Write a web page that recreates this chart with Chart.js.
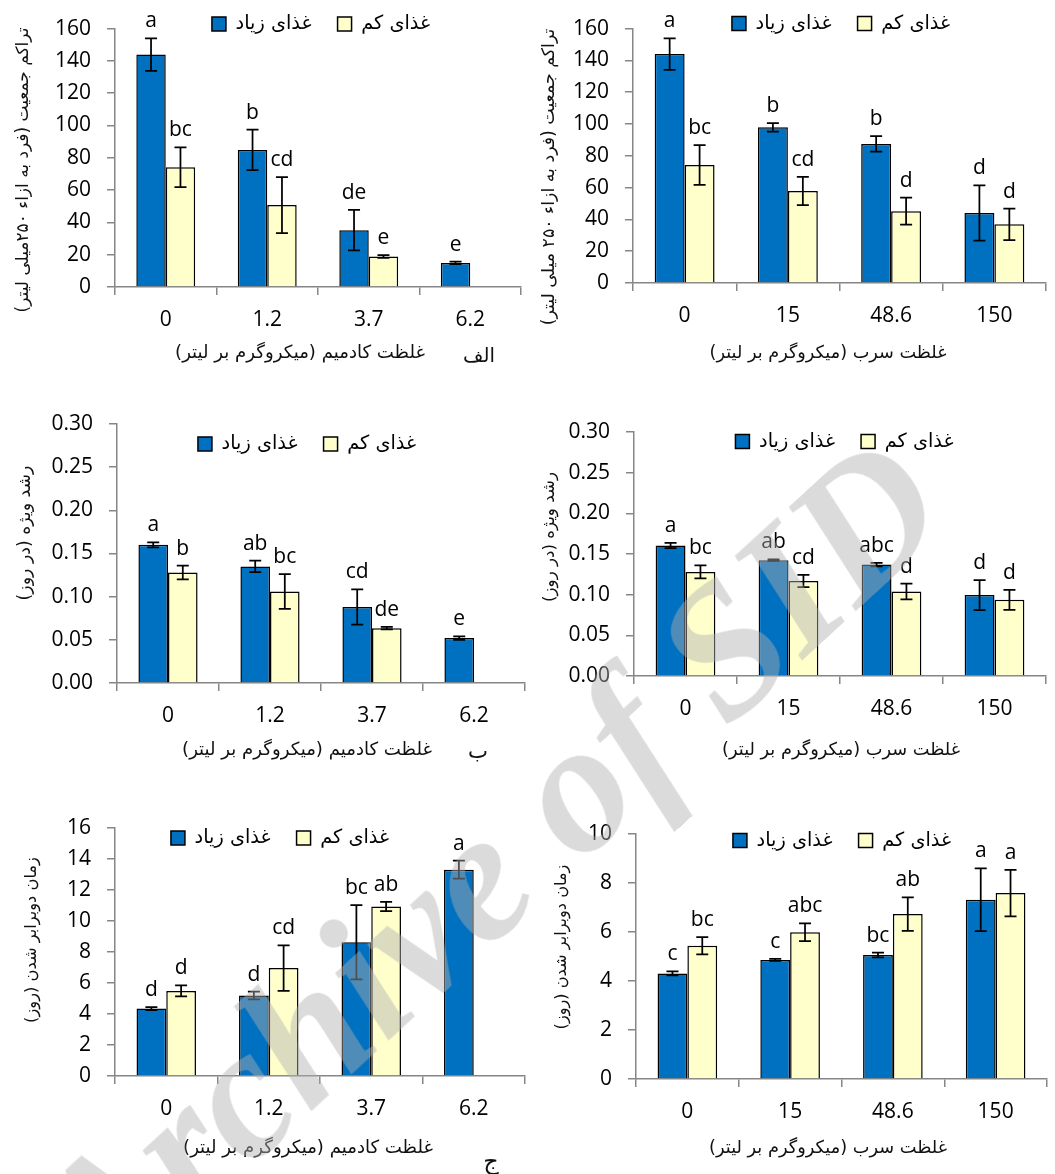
<!DOCTYPE html>
<html>
<head>
<meta charset="utf-8">
<script src="https://cdn.jsdelivr.net/npm/chart.js@4.4.1/dist/chart.umd.min.js"></script>
<style>
html,body{margin:0;padding:0;background:#fff;}
#wrap{position:relative;width:1055px;height:1174px;overflow:hidden;background:#fff;}
.panel{position:absolute;}
.panel canvas{display:block;}
#wm{position:absolute;left:-2px;top:1188px;transform-origin:0 0;transform:rotate(-42.6deg);
  font:italic bold 186px 'Liberation Serif';line-height:1;white-space:nowrap;
  color:rgba(175,175,175,0.45);pointer-events:none;z-index:5;}
</style>
</head>
<body>
<div id="wrap">
  <div class="panel" style="left:0;top:0"><canvas id="c1" width="527" height="395"></canvas></div>
  <div class="panel" style="left:527px;top:0"><canvas id="c2" width="528" height="395"></canvas></div>
  <div class="panel" style="left:0;top:395px"><canvas id="c3" width="527" height="400"></canvas></div>
  <div class="panel" style="left:527px;top:395px"><canvas id="c4" width="528" height="400"></canvas></div>
  <div class="panel" style="left:0;top:795px"><canvas id="c5" width="527" height="379"></canvas></div>
  <div class="panel" style="left:527px;top:795px"><canvas id="c6" width="528" height="379"></canvas></div>
  <div id="wm">Archive of SID</div>
</div>
<script>
// ---------- categories / labels ----------
const cdDoses = ['0', '1.2', '3.7', '6.2'];
const pbDoses = ['0', '15', '48.6', '150'];
const seriesHigh = 'غذای زیاد';
const seriesLow = 'غذای کم';
const xTitleCd = 'غلظت کادمیم (میکروگرم بر لیتر)';
const xTitlePb = 'غلظت سرب (میکروگرم بر لیتر)';
const yTitlePop1 = 'تراکم جمعیت (فرد به ازاء ۲۵۰میلی لیتر)';
const yTitlePop2 = 'تراکم جمعیت (فرد به ازاء ۲۵۰ میلی لیتر)';
const yTitleGrowth = 'رشد ویژه (در روز)';
const yTitleDoubling = 'زمان دوبرابر شدن (روز)';
const panelTags = ['الف', 'ب', 'ج'];

// ---------- population (Cd) ----------
const popCdHigh = [143.9, 84.9, 35.2, 14.9];
const popCdHighSE = [10.0, 12.6, 12.5, 0.8];
const popCdHighLetters = ['a', 'b', 'de', 'e'];
const popCdLow = [74.1, 50.7, 18.9, null];
const popCdLowSE = [12.3, 17.4, 0.8, null];
const popCdLowLetters = ['bc', 'cd', 'e', ''];

// ---------- population (Pb) ----------
const popPbHigh = [144.0, 97.9, 87.5, 44.0];
const popPbHighSE = [9.9, 2.7, 4.8, 17.4];
const popPbHighLetters = ['a', 'b', 'b', 'd'];
const popPbLow = [74.2, 57.9, 45.2, 36.9];
const popPbLowSE = [12.5, 8.9, 8.5, 9.9];
const popPbLowLetters = ['bc', 'cd', 'd', 'd'];

// ---------- specific growth (Cd) ----------
const grCdHigh = [0.160, 0.135, 0.088, 0.052];
const grCdHighSE = [0.003, 0.0067, 0.0205, 0.002];
const grCdHighLetters = ['a', 'ab', 'cd', 'e'];
const grCdLow = [0.128, 0.106, 0.0635, null];
const grCdLowSE = [0.008, 0.020, 0.0015, null];
const grCdLowLetters = ['b', 'bc', 'de', ''];

// ---------- specific growth (Pb) ----------
const grPbHigh = [0.1605, 0.1424, 0.137, 0.0995];
const grPbHighSE = [0.0033, 0.001, 0.0022, 0.0185];
const grPbHighLetters = ['a', 'ab', 'abc', 'd'];
const grPbLow = [0.128, 0.1167, 0.104, 0.0937];
const grPbLowSE = [0.008, 0.0075, 0.0097, 0.0123];
const grPbLowLetters = ['bc', 'cd', 'd', 'd'];

// ---------- doubling time (Cd) ----------
const dtCdHigh = [4.35, 5.19, 8.63, 13.31];
const dtCdHighSE = [0.1, 0.25, 2.4, 0.58];
const dtCdHighLetters = ['d', 'd', 'bc', 'a'];
const dtCdLow = [5.49, 6.96, 10.94, null];
const dtCdLowSE = [0.36, 1.47, 0.3, null];
const dtCdLowLetters = ['d', 'cd', 'ab', ''];

// ---------- doubling time (Pb) ----------
const dtPbHigh = [4.31, 4.86, 5.06, 7.32];
const dtPbHighSE = [0.085, 0.04, 0.1, 1.28];
const dtPbHighLetters = ['c', 'c', 'bc', 'a'];
const dtPbLow = [5.44, 5.99, 6.73, 7.59];
const dtPbLowSE = [0.35, 0.36, 0.68, 0.95];
const dtPbLowLetters = ['bc', 'abc', 'ab', 'a'];

// ---------- styling ----------
const BLUE = '#0070C0';
const YELLOW = '#FFFFCC';
const AXIS = '#868686';
const NUM_FONT = "'Open Sans'";
const FA_FONT = "'DejaVu Sans'";

function fitSize(text, target, base) {
  const c = document.createElement('canvas').getContext('2d');
  c.font = base + 'px ' + FA_FONT;
  c.direction = 'rtl';
  const w = c.measureText(text).width;
  return Math.max(9, Math.min(24, base * target / w));
}

// error bars + significance letters
const errPlugin = {
  id: 'errLetters',
  afterDatasetsDraw(chart) {
    const ctx = chart.ctx, ys = chart.scales.y;
    chart.data.datasets.forEach((ds, i) => {
      const meta = chart.getDatasetMeta(i);
      meta.data.forEach((bar, j) => {
        const v = ds.data[j];
        if (v == null) return;
        const se = ds.se[j];
        const yTop = ys.getPixelForValue(v + se), yBot = ys.getPixelForValue(v - se);
        ctx.save();
        ctx.strokeStyle = '#000';
        ctx.lineWidth = 1.75;
        ctx.beginPath();
        ctx.moveTo(bar.x, yTop); ctx.lineTo(bar.x, yBot);
        ctx.moveTo(bar.x - 6, yTop); ctx.lineTo(bar.x + 6, yTop);
        ctx.moveTo(bar.x - 6, yBot); ctx.lineTo(bar.x + 6, yBot);
        ctx.stroke();
        const letter = ds.letters[j];
        if (letter) {
          ctx.font = '21px ' + NUM_FONT;
          ctx.fillStyle = '#000';
          ctx.textAlign = 'center';
          ctx.textBaseline = 'alphabetic';
          ctx.fillText(letter, bar.x, yTop - 11);
        }
        ctx.restore();
      });
    });
  }
};

// move legend into the plot area
const legendMover = {
  id: 'legendMover',
  afterLayout(chart, args, o) {
    const lg = chart.legend;
    if (!lg) return;
    const fs = lg.options.labels.font.size;
    const pad = lg.options.labels.padding;
    const itemH = Math.max(fs, 14);
    lg.top = o.cy - pad - itemH / 2;
    lg.height = 90;
    lg.bottom = lg.top + 90;
    lg.left = o.cx - 260;
    lg.right = o.cx + 260;
    lg.width = 520;
  }
};

// axis titles and panel tags
const textPlugin = {
  id: 'panelText',
  afterDraw(chart, args, o) {
    const ctx = chart.ctx;
    ctx.save();
    ctx.fillStyle = '#111';
    ctx.direction = 'rtl';
    ctx.textAlign = 'center';
    ctx.textBaseline = 'middle';
    ctx.save();
    ctx.translate(o.yx, o.yy);
    ctx.rotate(-Math.PI / 2);
    ctx.font = o.ys + 'px ' + FA_FONT;
    ctx.fillText(o.yText, 0, 0);
    ctx.restore();
    ctx.font = o.xs + 'px ' + FA_FONT;
    ctx.fillText(o.xText, o.xx, o.xy);
    if (o.tag) {
      ctx.font = o.ts + 'px ' + FA_FONT;
      ctx.fillText(o.tag, o.tx, o.ty);
    }
    ctx.restore();
  }
};

const panels = [
  {id: 'c1', labels: cdDoses, high: popCdHigh, highSE: popCdHighSE, highLet: popCdHighLetters,
   low: popCdLow, lowSE: popCdLowSE, lowLet: popCdLowLetters, ymax: 160, step: 20, dec: 0,
   L: 115, T: 22, R: 521, B: 287,
   yText: yTitlePop1, yx: 24, yy: 170, yLen: 285,
   xText: xTitleCd, xx: 300, xy: 353, xLen: 250,
   tag: panelTags[0], tx: 479, ty: 357, tLen: 32, lcx: 321, lcy: 24},
  {id: 'c2', labels: pbDoses, high: popPbHigh, highSE: popPbHighSE, highLet: popPbHighLetters,
   low: popPbLow, lowSE: popPbLowSE, lowLet: popPbLowLetters, ymax: 160, step: 20, dec: 0,
   L: 106, T: 27, R: 519, B: 283,
   yText: yTitlePop2, yx: 22, yy: 177, yLen: 297,
   xText: xTitlePb, xx: 301, xy: 353, xLen: 237,
   tag: '', lcx: 314, lcy: 23.5},
  {id: 'c3', labels: cdDoses, high: grCdHigh, highSE: grCdHighSE, highLet: grCdHighLetters,
   low: grCdLow, lowSE: grCdLowSE, lowLet: grCdLowLetters, ymax: 0.30, step: 0.05, dec: 2,
   L: 117, T: 29, R: 525, B: 288,
   yText: yTitleGrowth, yx: 25, yy: 138, yLen: 135,
   xText: xTitleCd, xx: 307, xy: 355, xLen: 250,
   tag: panelTags[1], tx: 478, ty: 357, tLen: 20, lcx: 307, lcy: 49},
  {id: 'c4', labels: pbDoses, high: grPbHigh, highSE: grPbHighSE, highLet: grPbHighLetters,
   low: grPbLow, lowSE: grPbLowSE, lowLet: grPbLowLetters, ymax: 0.30, step: 0.05, dec: 2,
   L: 107, T: 37, R: 519, B: 281,
   yText: yTitleGrowth, yx: 23, yy: 142, yLen: 130,
   xText: xTitlePb, xx: 314, xy: 355, xLen: 238,
   tag: '', lcx: 317.5, lcy: 46.5},
  {id: 'c5', labels: cdDoses, high: dtCdHigh, highSE: dtCdHighSE, highLet: dtCdHighLetters,
   low: dtCdLow, lowSE: dtCdLowSE, lowLet: dtCdLowLetters, ymax: 16, step: 2, dec: 0,
   L: 115, T: 33, R: 525, B: 281,
   yText: yTitleDoubling, yx: 32, yy: 145, yLen: 166,
   xText: xTitleCd, xx: 308, xy: 353, xLen: 250,
   tag: panelTags[2], tx: 491, ty: 368, tLen: 18, lcx: 280, lcy: 43},
  {id: 'c6', labels: pbDoses, high: dtPbHigh, highSE: dtPbHighSE, highLet: dtPbHighLetters,
   low: dtPbLow, lowSE: dtPbLowSE, lowLet: dtPbLowLetters, ymax: 10, step: 2, dec: 0,
   L: 109, T: 39, R: 520, B: 284,
   yText: yTitleDoubling, yx: 35, yy: 152, yLen: 165,
   xText: xTitlePb, xx: 301, xy: 353, xLen: 238,
   tag: '', lcx: 315, lcy: 45.5}
];

const legendSize = fitSize(seriesHigh, 76, 16);

panels.forEach(p => {
  const canvas = document.getElementById(p.id);
  const W = canvas.width, H = canvas.height;
  new Chart(canvas, {
    type: 'bar',
    data: {
      labels: p.labels,
      datasets: [
        {label: seriesHigh, data: p.high, se: p.highSE, letters: p.highLet,
         backgroundColor: BLUE, borderColor: '#000', borderWidth: 1.5},
        {label: seriesLow, data: p.low, se: p.lowSE, letters: p.lowLet,
         backgroundColor: YELLOW, borderColor: '#000', borderWidth: 1.5}
      ]
    },
    options: {
      responsive: false,
      animation: false,
      devicePixelRatio: 1,
      layout: {padding: {left: 0, top: p.T - 1, right: W - p.R, bottom: 0}},
      datasets: {bar: {categoryPercentage: 0.58, barPercentage: 1.0}},
      scales: {
        x: {
          grid: {display: true, drawOnChartArea: false, drawTicks: true, tickLength: 8,
                 color: AXIS, lineWidth: 1.5, offset: true},
          border: {display: true, color: AXIS, width: 1.5},
          ticks: {color: '#000', font: {family: NUM_FONT, size: 21}, padding: 12,
                  maxRotation: 0, autoSkip: false},
          afterFit: s => { s.height = H - p.B; }
        },
        y: {
          min: 0, max: p.ymax,
          grid: {display: true, drawOnChartArea: false, drawTicks: true, tickLength: 8,
                 color: AXIS, lineWidth: 1.5},
          border: {display: true, color: AXIS, width: 1.5},
          ticks: {stepSize: p.step, color: '#000', font: {family: NUM_FONT, size: 21}, padding: 16,
                  callback: v => Number(v).toFixed(p.dec)},
          afterFit: s => { s.width = p.L; }
        }
      },
      plugins: {
        legend: {
          display: true, position: 'top', align: 'center', maxHeight: 1,
          labels: {boxWidth: 14, boxHeight: 14, padding: 26, color: '#000',
                   font: {family: FA_FONT, size: legendSize}}
        },
        tooltip: {enabled: false},
        legendMover: {cx: p.lcx, cy: p.lcy},
        panelText: {
          yText: p.yText, yx: p.yx, yy: p.yy, ys: fitSize(p.yText, p.yLen, 15),
          xText: p.xText, xx: p.xx, xy: p.xy, xs: fitSize(p.xText, p.xLen, 15),
          tag: p.tag, tx: p.tx || 0, ty: p.ty || 0, ts: p.tag ? fitSize(p.tag, p.tLen, 18) : 12
        }
      }
    },
    plugins: [errPlugin, legendMover, textPlugin]
  });
});
</script>
</body>
</html>
